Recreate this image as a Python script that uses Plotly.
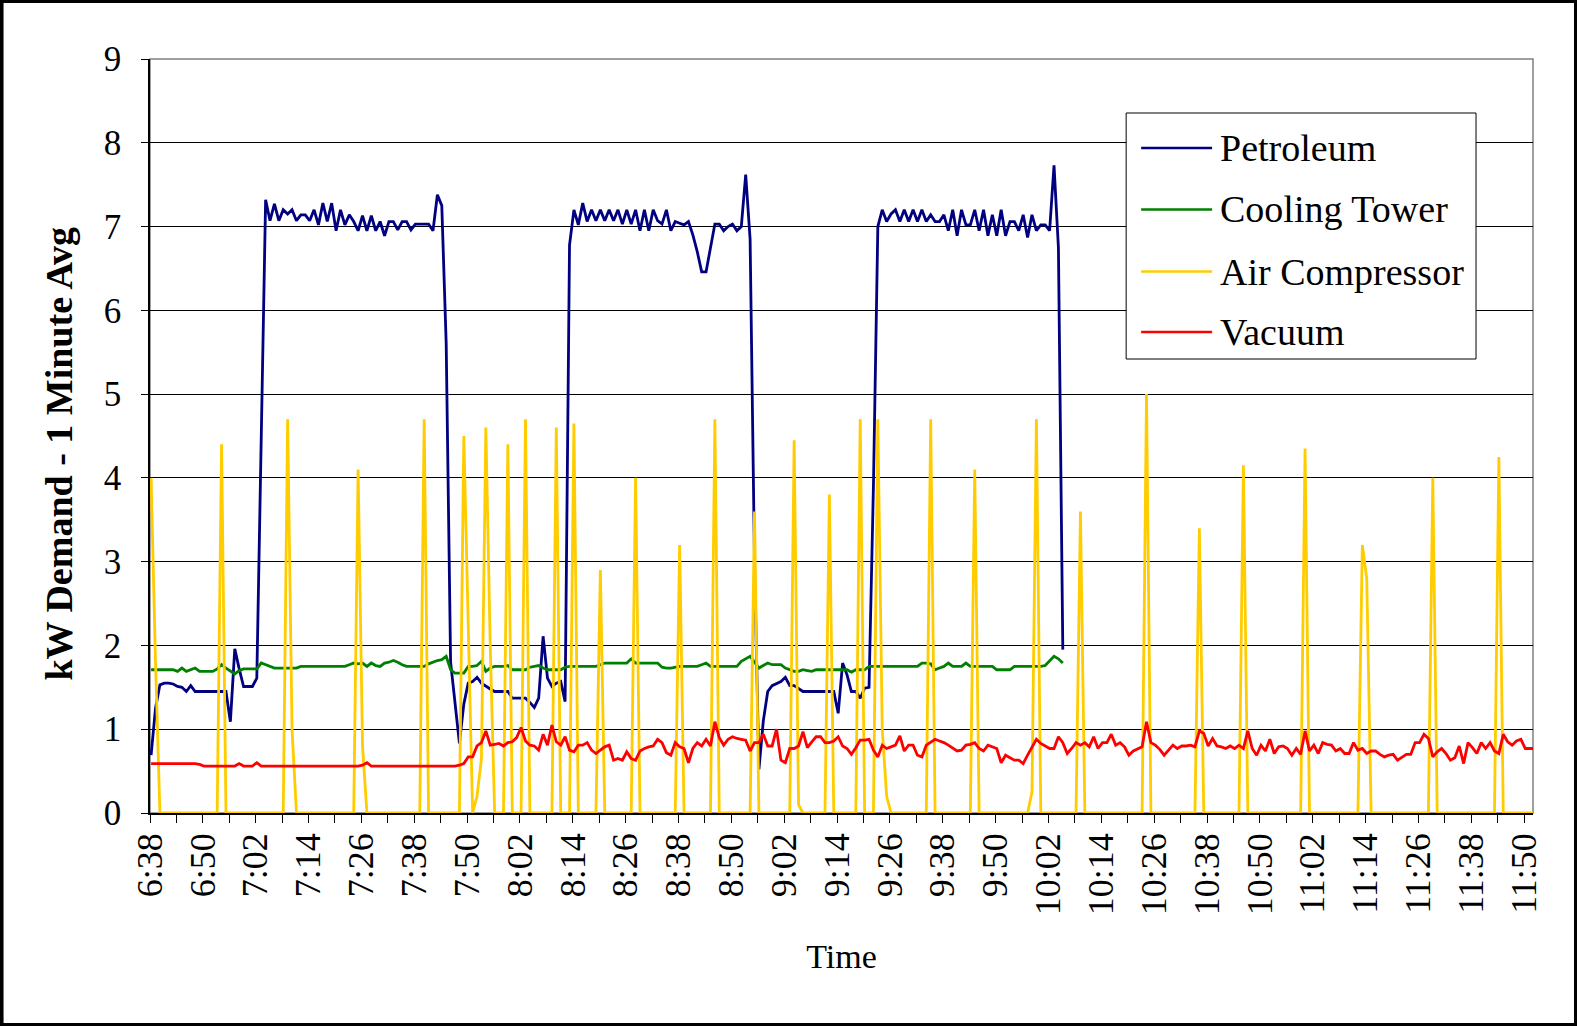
import pandas as pd
import plotly.graph_objects as go

# ---------------- data (1-minute averages, first sample just after 6:38) ----------------
start_time = "2024-01-01 06:38:15"
axis_start = "2024-01-01 06:38"
axis_end = "2024-01-01 11:52"
n_points = 315

series_names = ["Petroleum", "Cooling Tower", "Air Compressor", "Vacuum"]
series_colors = ["#000080", "#008000", "#FFCC00", "#FF0000"]

petroleum = [
    0.69, 1.25, 1.53, 1.55, 1.55, 1.54, 1.51, 1.50, 1.45, 1.52,
    1.45, 1.45, 1.45, 1.45, 1.45, 1.45, 1.45, 1.45, 1.09, 1.96,
    1.72, 1.51, 1.51, 1.51, 1.61, 4.40, 7.32, 7.07, 7.27, 7.07,
    7.20, 7.15, 7.20, 7.07, 7.14, 7.14, 7.07, 7.20, 7.02, 7.28,
    7.06, 7.28, 6.95, 7.20, 7.02, 7.14, 7.06, 6.95, 7.13, 6.95,
    7.13, 6.95, 7.06, 6.89, 7.06, 7.06, 6.96, 7.06, 7.06, 6.96,
    7.03, 7.03, 7.03, 7.03, 6.95, 7.38, 7.25, 5.60, 1.80, 1.30,
    0.83, 1.30, 1.55, 1.57, 1.62, 1.55, 1.51, 1.48, 1.45, 1.45,
    1.45, 1.45, 1.37, 1.37, 1.37, 1.37, 1.32, 1.26, 1.37, 2.11,
    1.61, 1.51, 1.55, 1.57, 1.33, 6.78, 7.20, 7.02, 7.28, 7.06,
    7.20, 7.07, 7.20, 7.07, 7.20, 7.07, 7.20, 7.03, 7.20, 7.03,
    7.20, 6.95, 7.20, 6.95, 7.20, 7.07, 7.03, 7.20, 6.95, 7.06,
    7.04, 7.02, 7.06, 6.90, 6.70, 6.46, 6.46, 6.75, 7.03, 7.03,
    6.95, 7.00, 7.03, 6.95, 7.00, 7.62, 6.85, 3.00, 0.52, 1.10,
    1.45, 1.52, 1.55, 1.57, 1.62, 1.52, 1.52, 1.48, 1.45, 1.45,
    1.45, 1.45, 1.45, 1.45, 1.45, 1.45, 1.19, 1.79, 1.65, 1.45,
    1.45, 1.37, 1.49, 1.50, 3.90, 7.00, 7.20, 7.06, 7.15, 7.20,
    7.06, 7.20, 7.06, 7.20, 7.06, 7.20, 7.06, 7.14, 7.06, 7.06,
    7.14, 6.95, 7.20, 6.89, 7.20, 7.02, 7.02, 7.20, 6.95, 7.20,
    6.89, 7.14, 6.89, 7.20, 6.89, 7.06, 7.06, 6.95, 7.14, 6.87,
    7.14, 6.95, 7.02, 7.02, 6.95, 7.73, 6.75, 1.95,
]

cooling_tower = [
    1.71, 1.71, 1.71, 1.71, 1.71, 1.71, 1.69, 1.73, 1.69, 1.71,
    1.73, 1.69, 1.69, 1.69, 1.69, 1.72, 1.77, 1.73, 1.69, 1.66,
    1.70, 1.72, 1.72, 1.72, 1.72, 1.79, 1.77, 1.75, 1.73, 1.73,
    1.73, 1.73, 1.73, 1.73, 1.75, 1.75, 1.75, 1.75, 1.75, 1.75,
    1.75, 1.75, 1.75, 1.75, 1.75, 1.77, 1.79, 1.78, 1.79, 1.75,
    1.79, 1.76, 1.75, 1.79, 1.80, 1.82, 1.80, 1.77, 1.75, 1.75,
    1.75, 1.75, 1.75, 1.78, 1.80, 1.82, 1.83, 1.87, 1.71, 1.67,
    1.67, 1.67, 1.75, 1.75, 1.76, 1.81, 1.69, 1.73, 1.75, 1.75,
    1.75, 1.76, 1.71, 1.71, 1.71, 1.71, 1.74, 1.75, 1.76, 1.73,
    1.71, 1.71, 1.71, 1.71, 1.74, 1.75, 1.75, 1.75, 1.75, 1.75,
    1.75, 1.75, 1.77, 1.79, 1.79, 1.79, 1.79, 1.79, 1.79, 1.84,
    1.79, 1.79, 1.79, 1.79, 1.79, 1.79, 1.74, 1.73, 1.73, 1.74,
    1.75, 1.75, 1.75, 1.75, 1.75, 1.77, 1.79, 1.75, 1.75, 1.75,
    1.75, 1.75, 1.75, 1.75, 1.81, 1.84, 1.87, 1.80, 1.73, 1.76,
    1.79, 1.77, 1.77, 1.77, 1.73, 1.71, 1.69, 1.69, 1.71, 1.70,
    1.69, 1.71, 1.71, 1.71, 1.71, 1.71, 1.71, 1.71, 1.71, 1.68,
    1.71, 1.71, 1.71, 1.75, 1.75, 1.75, 1.75, 1.75, 1.75, 1.75,
    1.75, 1.75, 1.75, 1.75, 1.75, 1.79, 1.79, 1.78, 1.71, 1.73,
    1.75, 1.79, 1.75, 1.75, 1.75, 1.79, 1.75, 1.75, 1.75, 1.75,
    1.75, 1.75, 1.71, 1.71, 1.71, 1.71, 1.75, 1.75, 1.75, 1.75,
    1.75, 1.75, 1.75, 1.76, 1.81, 1.87, 1.84, 1.79,
]

air_compressor = [
    4.00, 1.80, 0, 0, 0, 0, 0, 0, 0, 0,
    0, 0, 0, 0, 0, 0, 4.40, 0, 0, 0,
    0, 0, 0, 0, 0, 0, 0, 0, 0, 0,
    0, 4.70, 1.00, 0, 0, 0, 0, 0, 0, 0,
    0, 0, 0, 0, 0, 0, 0, 4.10, 0.80, 0,
    0, 0, 0, 0, 0, 0, 0, 0, 0, 0,
    0, 0, 4.70, 0, 0, 0, 0, 0, 0, 0,
    0, 4.50, 2.20, 0, 0.20, 0.65, 4.60, 2.00, 0, 0,
    0, 4.40, 0, 0, 0, 4.70, 0, 0, 0, 0,
    0, 0, 4.60, 0, 0, 0, 4.65, 0, 0, 0,
    0, 0, 2.90, 0, 0, 0, 0, 0, 0, 0,
    4.00, 0, 0, 0, 0, 0, 0, 0, 0, 0,
    3.20, 0, 0, 0, 0, 0, 0, 0, 4.70, 0,
    0, 0, 0, 0, 0, 0, 0, 3.60, 0, 0,
    0, 0, 0, 0, 0, 0, 4.45, 0.10, 0, 0,
    0, 0, 0, 0, 3.80, 0, 0, 0, 0, 0,
    0, 4.70, 0, 0, 0, 4.70, 1.00, 0.20, 0, 0,
    0, 0, 0, 0, 0, 0, 0, 4.70, 0, 0,
    0, 0, 0, 0, 0, 0, 0, 4.10, 0, 0,
    0, 0, 0, 0, 0, 0, 0, 0, 0, 0,
    0.25, 4.70, 0, 0, 0, 0, 0, 0, 0, 0,
    0, 3.60, 0, 0, 0, 0, 0, 0, 0, 0,
    0, 0, 0, 0, 0, 0, 5.00, 0, 0, 0,
    0, 0, 0, 0, 0, 0, 0, 0, 3.40, 0,
    0, 0, 0, 0, 0, 0, 0, 0, 4.15, 0,
    0, 0, 0, 0, 0, 0, 0, 0, 0, 0,
    0, 0, 4.35, 0, 0, 0, 0, 0, 0, 0,
    0, 0, 0, 0, 0, 3.20, 2.80, 0, 0, 0,
    0, 0, 0, 0, 0, 0, 0, 0, 0, 0,
    0, 4.00, 0, 0, 0, 0, 0, 0, 0, 0,
    0, 0, 0, 0, 0, 0, 4.25, 0, 0, 0,
    0, 0, 0, 0, 0,
]

vacuum = [
    0.59, 0.59, 0.59, 0.59, 0.59, 0.59, 0.59, 0.59, 0.59, 0.59,
    0.59, 0.58, 0.56, 0.56, 0.56, 0.56, 0.56, 0.56, 0.56, 0.56,
    0.59, 0.56, 0.56, 0.56, 0.60, 0.56, 0.56, 0.56, 0.56, 0.56,
    0.56, 0.56, 0.56, 0.56, 0.56, 0.56, 0.56, 0.56, 0.56, 0.56,
    0.56, 0.56, 0.56, 0.56, 0.56, 0.56, 0.56, 0.56, 0.57, 0.60,
    0.56, 0.56, 0.56, 0.56, 0.56, 0.56, 0.56, 0.56, 0.56, 0.56,
    0.56, 0.56, 0.56, 0.56, 0.56, 0.56, 0.56, 0.56, 0.56, 0.56,
    0.57, 0.59, 0.67, 0.67, 0.80, 0.84, 0.98, 0.81, 0.82, 0.83,
    0.80, 0.84, 0.85, 0.90, 1.02, 0.86, 0.81, 0.80, 0.75, 0.94,
    0.81, 1.05, 0.85, 0.81, 0.91, 0.75, 0.73, 0.81, 0.81, 0.84,
    0.75, 0.71, 0.75, 0.79, 0.81, 0.63, 0.65, 0.63, 0.73, 0.65,
    0.63, 0.74, 0.77, 0.79, 0.80, 0.88, 0.84, 0.72, 0.69, 0.84,
    0.79, 0.77, 0.60, 0.77, 0.84, 0.80, 0.88, 0.80, 1.09, 0.90,
    0.81, 0.88, 0.91, 0.89, 0.88, 0.87, 0.74, 0.84, 0.84, 0.94,
    0.80, 0.80, 1.00, 0.63, 0.60, 0.77, 0.77, 0.80, 0.97, 0.78,
    0.85, 0.91, 0.91, 0.84, 0.84, 0.86, 0.91, 0.80, 0.77, 0.70,
    0.78, 0.87, 0.87, 0.88, 0.75, 0.67, 0.81, 0.77, 0.79, 0.81,
    0.92, 0.74, 0.81, 0.81, 0.69, 0.67, 0.81, 0.85, 0.88, 0.86,
    0.84, 0.81, 0.78, 0.74, 0.75, 0.81, 0.82, 0.84, 0.77, 0.74,
    0.81, 0.79, 0.77, 0.60, 0.69, 0.66, 0.63, 0.63, 0.59, 0.69,
    0.78, 0.88, 0.83, 0.80, 0.77, 0.77, 0.91, 0.84, 0.71, 0.77,
    0.84, 0.81, 0.84, 0.79, 0.91, 0.77, 0.84, 0.84, 0.94, 0.81,
    0.84, 0.79, 0.69, 0.74, 0.77, 0.79, 1.09, 0.84, 0.81, 0.76,
    0.69, 0.75, 0.81, 0.77, 0.80, 0.80, 0.81, 0.79, 0.98, 0.95,
    0.80, 0.89, 0.80, 0.79, 0.77, 0.80, 0.77, 0.81, 0.77, 0.98,
    0.77, 0.69, 0.81, 0.74, 0.88, 0.71, 0.79, 0.80, 0.77, 0.69,
    0.77, 0.70, 0.98, 0.74, 0.81, 0.71, 0.84, 0.82, 0.81, 0.74,
    0.77, 0.71, 0.71, 0.84, 0.75, 0.77, 0.71, 0.74, 0.74, 0.70,
    0.67, 0.69, 0.70, 0.63, 0.66, 0.70, 0.70, 0.84, 0.84, 0.94,
    0.89, 0.67, 0.73, 0.77, 0.71, 0.63, 0.66, 0.80, 0.59, 0.84,
    0.78, 0.71, 0.84, 0.77, 0.84, 0.74, 0.71, 0.94, 0.85, 0.81,
    0.86, 0.88, 0.77, 0.77, 0.77,
]

y_ticks = [0, 1, 2, 3, 4, 5, 6, 7, 8, 9]
y_title = "kW Demand - 1 Minute Avg"
x_title = "Time"

# ---------------- figure ----------------
times = pd.date_range(start_time, periods=n_points, freq="min")
values = [petroleum, cooling_tower, air_compressor, vacuum]

W, H = 1577, 1026
ML, MR, MT, MB = 149.5, 44, 59, 213
PW, PH = W - ML - MR, H - MT - MB

FONT = "Liberation Serif, Times New Roman, serif"
LINE_W = 2.8

fig = go.Figure()
for name, color, vals in zip(series_names, series_colors, values):
    fig.add_trace(go.Scatter(
        x=times[:len(vals)], y=vals, name=name, mode="lines",
        line=dict(color=color, width=LINE_W), showlegend=False,
    ))

fig.update_layout(
    width=W, height=H,
    margin=dict(l=ML, r=MR, t=MT, b=MB, pad=0),
    paper_bgcolor="white", plot_bgcolor="white",
    font=dict(family=FONT, color="black"),
)

fig.update_xaxes(
    type="date",
    range=[axis_start, axis_end],
    tick0=axis_start, dtick=12 * 60 * 1000,
    tickformat="%-H:%M", tickangle=-90,
    tickfont=dict(size=36, family=FONT),
    ticks="outside", ticklen=8, tickwidth=1, tickcolor="black",
    minor=dict(dtick=6 * 60 * 1000, tick0=axis_start, ticks="outside",
               ticklen=8, tickcolor="black", showgrid=False),
    ticklabelstandoff=-4,
    showline=True, linecolor="black", linewidth=1.5,
    showgrid=False, zeroline=False,
    title=dict(text=x_title, font=dict(size=34, family=FONT), standoff=30),
)

fig.update_yaxes(
    range=[0, 9], tickvals=y_ticks,
    tickfont=dict(size=35, family=FONT),
    ticks="outside", ticklen=7, tickcolor="black",
    ticklabelstandoff=13,
    showline=True, linecolor="black", linewidth=1.5,
    showgrid=True, gridcolor="black", gridwidth=1,
    zeroline=False,
)


def px_x(x):
    return (x - ML) / PW


def px_y(y):
    return (H - MB - y) / PH


shapes = [
    # right / top plot-area frame
    dict(type="rect", xref="paper", yref="paper", x0=0, x1=1, y0=0, y1=1,
         line=dict(color="#808080", width=1.5), layer="below"),
    # outer chart border
    dict(type="rect", xref="paper", yref="paper",
         x0=-ML / PW, x1=1 + MR / PW, y0=-MB / PH, y1=1 + MT / PH,
         line=dict(color="black", width=6), layer="above"),
    # legend box
    dict(type="rect", xref="paper", yref="paper",
         x0=px_x(1126), x1=px_x(1476), y0=px_y(359), y1=px_y(113),
         line=dict(color="black", width=1), fillcolor="white", layer="above"),
]

annotations = [
    dict(xref="paper", yref="paper", x=px_x(58.5), y=px_y(453.5),
         text="<b>" + y_title + "</b>", textangle=-90, showarrow=False,
         xanchor="center", yanchor="middle",
         font=dict(size=38, family=FONT, color="black")),
]

legend_rows = [148, 209.5, 271.5, 332]
for name, color, yy in zip(series_names, series_colors, legend_rows):
    shapes.append(dict(type="line", xref="paper", yref="paper",
                       x0=px_x(1141), x1=px_x(1212), y0=px_y(yy), y1=px_y(yy),
                       line=dict(color=color, width=2.6), layer="above"))
    annotations.append(dict(xref="paper", yref="paper", x=px_x(1218),
                            y=px_y(yy), text=name, showarrow=False,
                            xanchor="left", yanchor="middle",
                            font=dict(size=38, family=FONT, color="black")))

fig.update_layout(shapes=shapes, annotations=annotations)

fig.write_html("out.html",
               config={"displayModeBar": False},
               post_script="document.body.style.margin='0';"
                           "document.body.style.overflow='hidden';")
